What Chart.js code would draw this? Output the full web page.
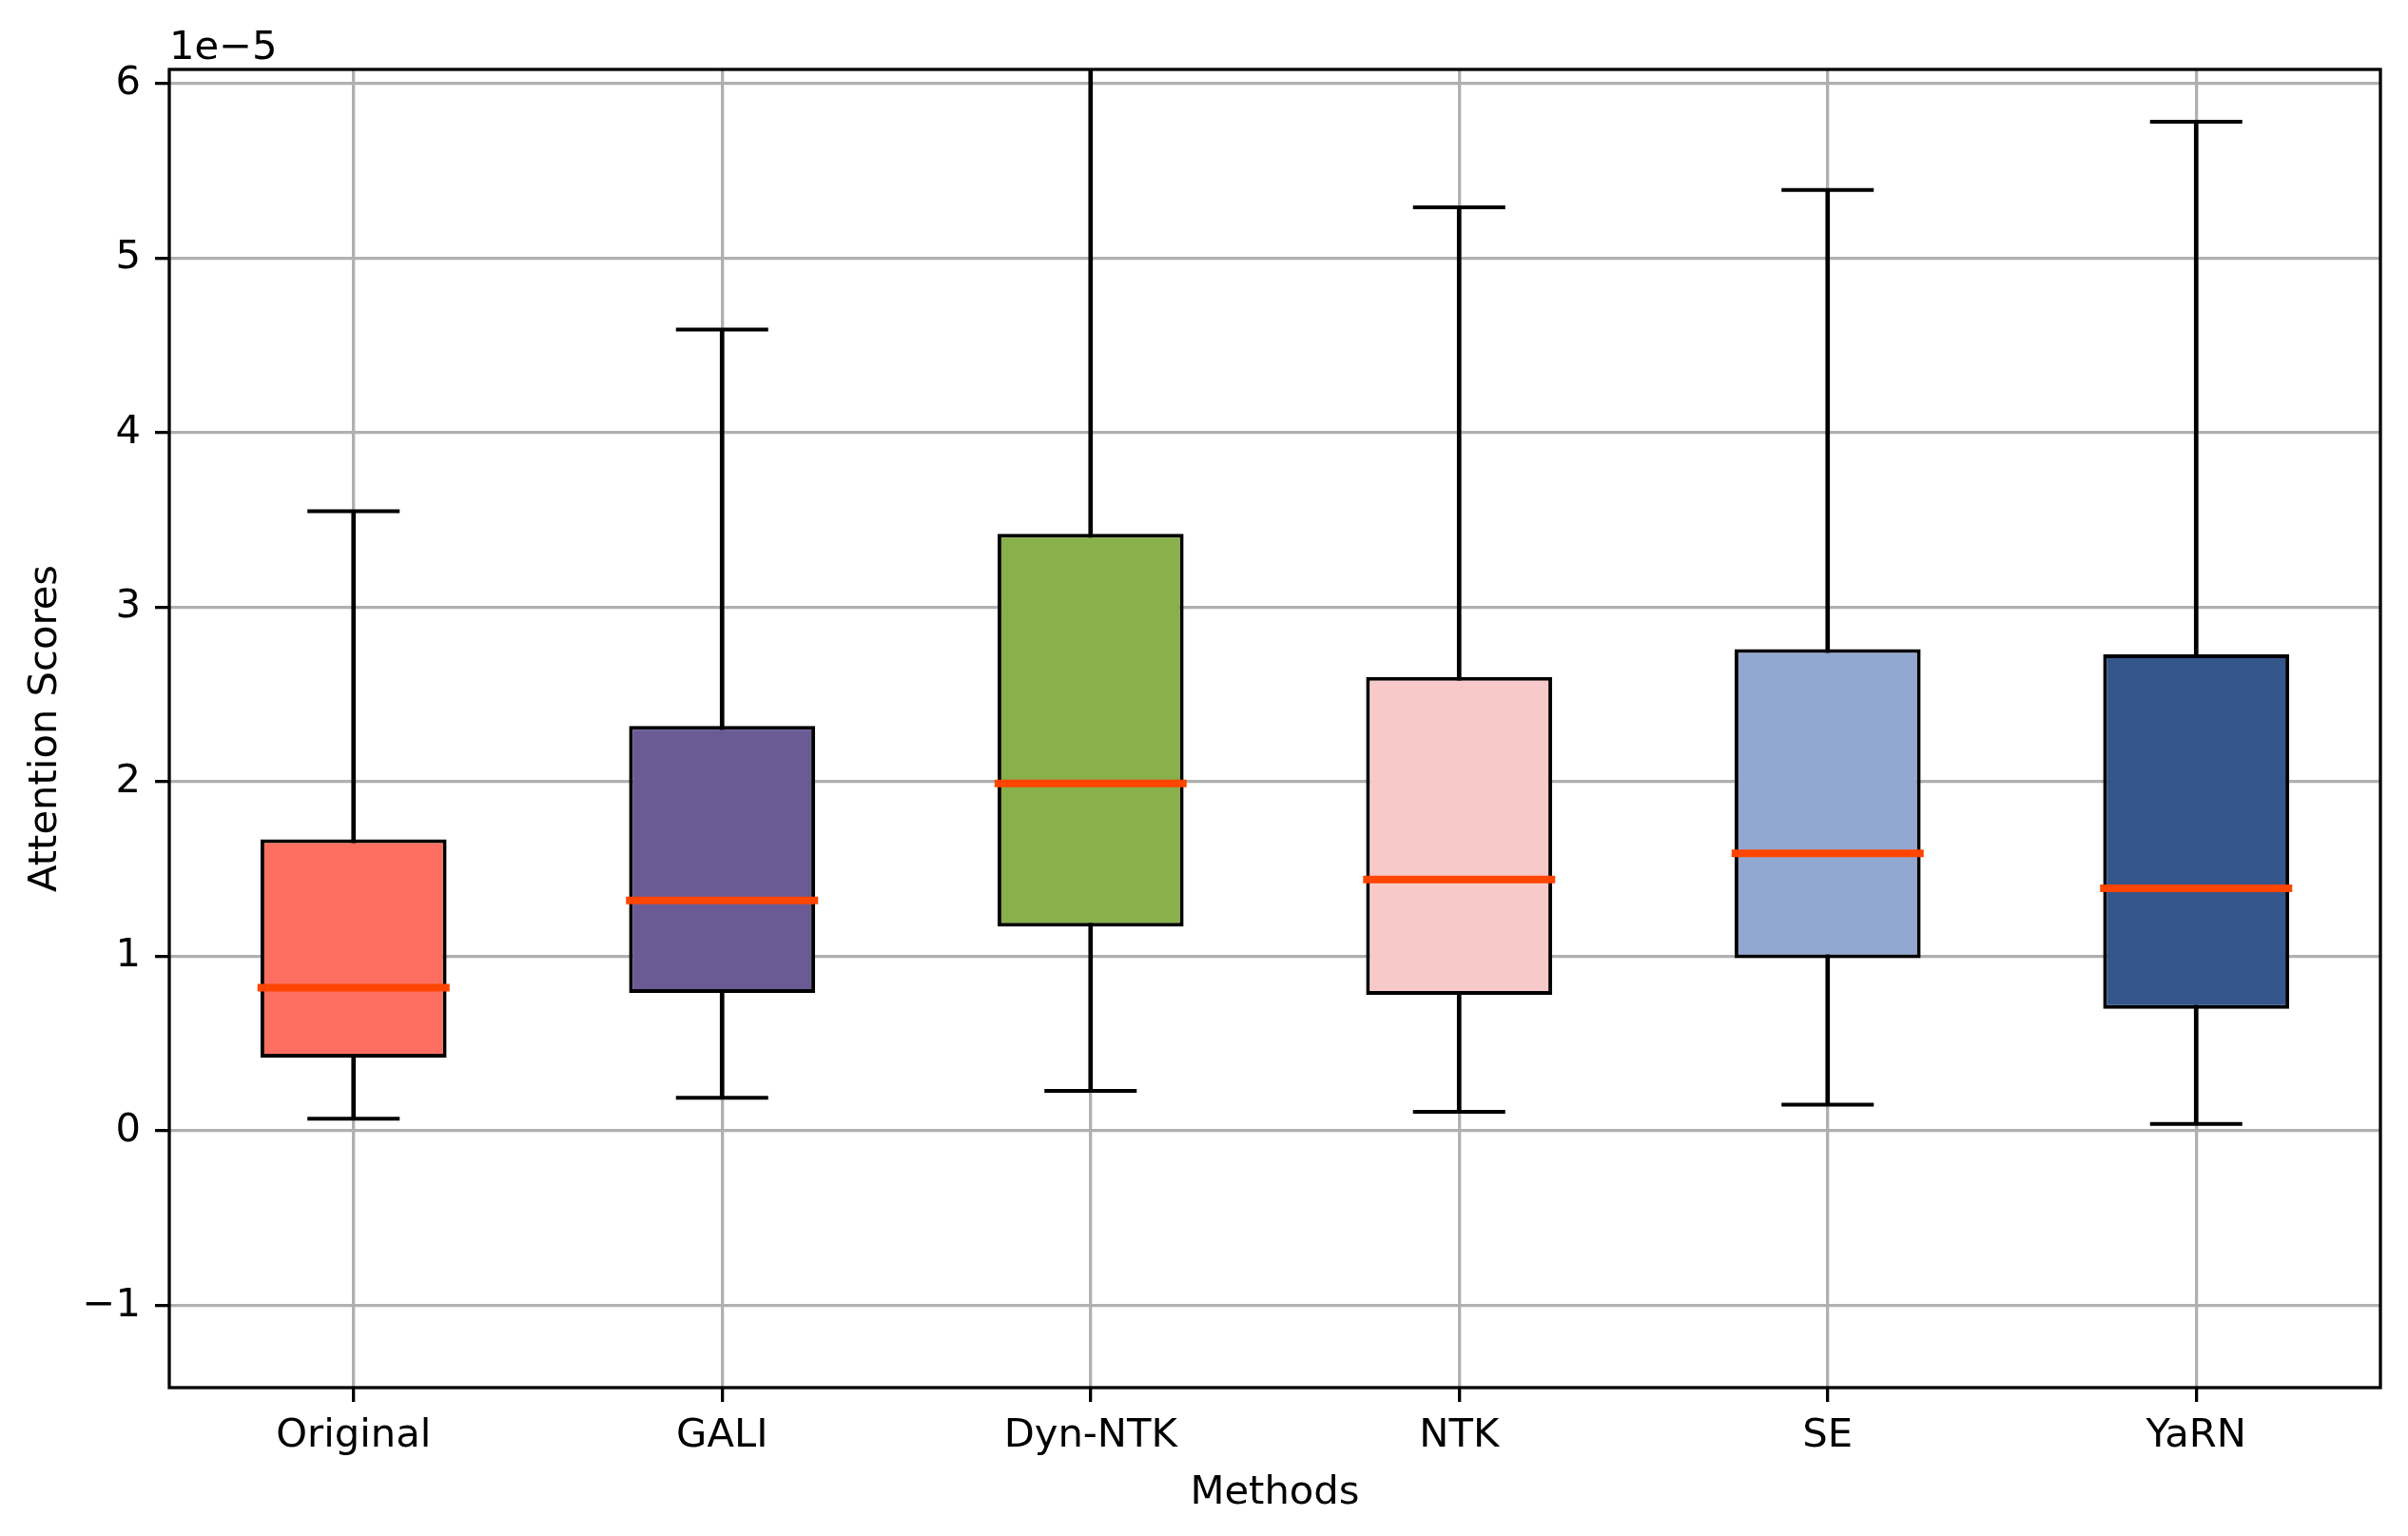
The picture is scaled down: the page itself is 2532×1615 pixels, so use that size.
<!DOCTYPE html>
<html>
<head>
<meta charset="utf-8">
<script src="https://cdn.jsdelivr.net/npm/chart.js@4.4.0/dist/chart.umd.min.js"></script>
<style>
  body { margin: 0; background: #fff; }
  canvas { display: block; }
</style>
</head>
<body>
<canvas id="boxChart" width="2532" height="1615"></canvas>
<script>
// values in units of 1e-5
const methods = ['Original', 'GALI', 'Dyn-NTK', 'NTK', 'SE', 'YaRN']
const whiskerLow = [0.07, 0.19, 0.23, 0.11, 0.15, 0.04]
const q1 = [0.42, 0.79, 1.17, 0.78, 0.99, 0.70]
const medians = [0.82, 1.32, 1.99, 1.44, 1.59, 1.39]
const q3 = [1.67, 2.32, 3.42, 2.60, 2.76, 2.73]
const whiskerHigh = [3.55, 4.59, 6.40, 5.29, 5.39, 5.78]
const yTicks = [-1, 0, 1, 2, 3, 4, 5, 6]
const boxColors = ['#FF6F61', '#6B5B95', '#88B04B', '#F7CAC9', '#92A8D1', '#34568B']

const font = { family: 'DejaVu Sans', size: 41.7, lineHeight: 1 }

const framePlugin = {
    id: 'frame',
    afterDraw(chart) {
        const { ctx, chartArea: a } = chart
        ctx.save()
        ctx.strokeStyle = '#000'
        ctx.lineWidth = 3.3
        ctx.strokeRect(a.left, a.top, a.right - a.left, a.bottom - a.top)
        ctx.fillStyle = '#000'
        ctx.font = '41.7px "DejaVu Sans"'
        ctx.textAlign = 'left'
        ctx.textBaseline = 'alphabetic'
        ctx.fillText('1e\u22125', a.left, 62)
        ctx.restore()
    }
}

new Chart(document.getElementById('boxChart'), {
    data: {
        labels: methods,
        datasets: [
            {
                type: 'bar',
                data: methods.map((m, i) => [whiskerLow[i], whiskerHigh[i]]),
                backgroundColor: '#000',
                barThickness: 4,
                grouped: false,
                order: 5
            },
            {
                type: 'bar',
                data: methods.map((m, i) => [q1[i], q3[i]]),
                backgroundColor: boxColors,
                borderColor: '#000',
                borderWidth: 4,
                borderSkipped: false,
                barPercentage: 0.505,
                categoryPercentage: 1,
                grouped: false,
                order: 4
            },
            {
                type: 'line',
                data: whiskerLow,
                showLine: false,
                pointStyle: 'line',
                pointRadius: 48.5,
                pointBorderWidth: 4,
                pointBorderColor: '#000',
                order: 2
            },
            {
                type: 'line',
                data: whiskerHigh,
                showLine: false,
                pointStyle: 'line',
                pointRadius: 48.5,
                pointBorderWidth: 4,
                pointBorderColor: '#000',
                order: 2
            },
            {
                type: 'line',
                data: medians,
                showLine: false,
                pointStyle: 'line',
                pointRadius: 101,
                pointBorderWidth: 8,
                pointBorderColor: '#FF4500',
                order: 1
            }
        ]
    },
    options: {
        responsive: false,
        devicePixelRatio: 1,
        animation: false,
        events: [],
        layout: { autoPadding: false, padding: { top: 73, right: 29, left: 0, bottom: 0 } },
        plugins: {
            legend: { display: false },
            tooltip: { enabled: false }
        },
        scales: {
            x: {
                type: 'category',
                offset: true,
                border: { display: false },
                grid: {
                    offset: false,
                    color: '#b0b0b0',
                    lineWidth: 3.3,
                    tickColor: '#000',
                    tickWidth: 3.3,
                    tickLength: 15
                },
                ticks: { color: '#000', font: font, padding: 15, maxRotation: 0 },
                title: {
                    display: true,
                    text: 'Methods',
                    color: '#000',
                    font: { family: 'DejaVu Sans', size: 41.7, lineHeight: 1.2 },
                    padding: { top: 0, bottom: 20 }
                },
                afterFit: s => { s.height = 156 }
            },
            y: {
                type: 'linear',
                min: -1.47,
                max: 6.08,
                border: { display: false },
                grid: {
                    color: '#b0b0b0',
                    lineWidth: 3.3,
                    tickColor: '#000',
                    tickWidth: 3.3,
                    tickLength: 15
                },
                ticks: {
                    color: '#000',
                    font: font,
                    padding: 15,
                    callback: v => v < 0 ? '\u2212' + Math.abs(v) : String(v)
                },
                afterBuildTicks: s => { s.ticks = yTicks.map(v => ({ value: v })) },
                title: {
                    display: true,
                    text: 'Attention Scores',
                    color: '#000',
                    font: { family: 'DejaVu Sans', size: 41.7, lineHeight: 1.2 },
                    padding: { top: 23, bottom: 0 }
                },
                afterFit: s => { s.width = 178 }
            }
        }
    },
    plugins: [framePlugin]
})
</script>
</body>
</html>
